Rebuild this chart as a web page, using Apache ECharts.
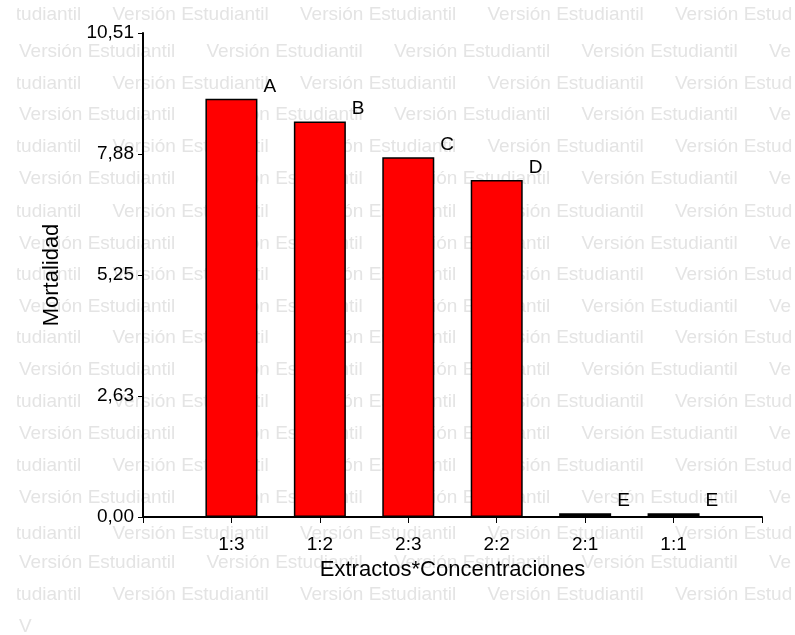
<!DOCTYPE html>
<html>
<head>
<meta charset="utf-8">
<script src="https://cdn.jsdelivr.net/npm/echarts@6/dist/echarts.min.js"></script>
<style>html,body{margin:0;padding:0;background:#fff;}#c{width:795px;height:635px;}</style>
</head>
<body>
<div id="c"></div>
<script>
// ---- data ----
var categories = ['1:3', '1:2', '2:3', '2:2', '2:1', '1:1'];
var mortalidad = [9.08, 8.59, 7.81, 7.32, 0.08, 0.08];
var groupLetters = ['A', 'B', 'C', 'D', 'E', 'E'];
var yTickLabels = ['0,00', '2,63', '5,25', '7,88', '10,51'];
var yMax = 10.51;
var watermarkText = 'Versión Estudiantil';

// ---- watermark (background text) ----
var wmRows = [15, 51.7, 83.3, 115, 147, 179, 211.7, 243.3, 275, 306.7, 338, 370, 402, 434, 466, 498, 534, 563, 595, 627];
var wmGraphics = [];
wmRows.forEach(function (y, i) {
  var isV = (i % 2 === 1);
  var start = isV ? 19 : -75;
  var last = (i === wmRows.length - 1);
  for (var k = 0; k < 5; k++) {
    var x = start + k * 187.5;
    if (last && k > 0) break;
    wmGraphics.push({
      type: 'text', x: x, y: y, z: -10, silent: true,
      style: {
        text: last ? 'V' : watermarkText,
        fill: '#e4e4e4',
        font: '19px "Liberation Sans", Arial, sans-serif',
        textVerticalAlign: 'middle', verticalAlign: 'middle'
      }
    });
  }
});

// x category axis with empty end slots so ticks sit at both ends
var xData = [''].concat(categories).concat(['']);
var seriesData = [null].concat(mortalidad.map(function (v) {
  // near-zero bars are drawn as a solid black sliver, as in the original
  return v < 0.5 ? { value: v, itemStyle: { color: '#000', borderWidth: 1.5 } } : v;
})).concat([null]);
var labelData = [''].concat(groupLetters).concat(['']);

var chart = echarts.init(document.getElementById('c'), null, { renderer: 'canvas' });
var font = '"Liberation Sans", Arial, sans-serif';
chart.setOption({
  backgroundColor: '#ffffff',
  animation: false,
  graphic: [{
    type: 'group', z: -10, silent: true,
    clipPath: { type: 'rect', shape: { x: 17, y: 0, width: 775, height: 635 } },
    children: wmGraphics
  }],
  grid: { left: 143, right: 33, top: 33, bottom: 118, containLabel: false },
  xAxis: {
    type: 'category',
    data: xData,
    boundaryGap: false,
    name: 'Extractos*Concentraciones',
    nameLocation: 'middle',
    nameGap: 41,
    nameTextStyle: { color: '#000', fontSize: 22, fontFamily: font },
    axisLine: { lineStyle: { color: '#000', width: 2 } },
    axisTick: { show: true, length: 6, interval: 0, lineStyle: { color: '#000', width: 1 } },
    axisLabel: { color: '#000', fontSize: 19, fontFamily: font, margin: 18, interval: 0 },
    splitLine: { show: false }
  },
  yAxis: {
    type: 'value',
    min: 0,
    max: yMax,
    interval: yMax / 4,
    name: 'Mortalidad',
    nameLocation: 'middle',
    nameGap: 80,
    nameRotate: 90,
    nameTextStyle: { color: '#000', fontSize: 22, fontFamily: font },
    axisLine: { show: true, lineStyle: { color: '#000', width: 2 } },
    axisTick: { show: true, length: 5, lineStyle: { color: '#000', width: 1 } },
    axisLabel: {
      color: '#000', fontSize: 19, fontFamily: font, margin: 9,
      formatter: function (v) {
        var idx = Math.round(v / (yMax / 4));
        return yTickLabels[idx] !== undefined ? yTickLabels[idx] : '';
      }
    },
    splitLine: { show: false }
  },
  series: [{
    type: 'bar',
    data: seriesData,
    barWidth: 52,
    itemStyle: { color: '#ff0000', borderColor: '#000', borderWidth: 1.5 },
    label: {
      show: true,
      position: ['100%', 0],
      offset: [6, -3],
      align: 'left',
      verticalAlign: 'bottom',
      color: '#000',
      fontSize: 19,
      fontFamily: font,
      formatter: function (p) { return labelData[p.dataIndex]; }
    }
  }]
});
</script>
</body>
</html>
